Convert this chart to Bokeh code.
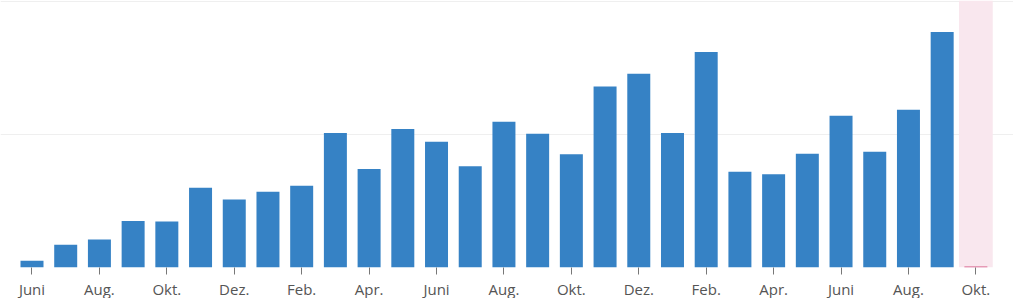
from bokeh.plotting import figure
from bokeh.models import Range1d, FixedTicker, BoxAnnotation, ColumnDataSource
from bokeh.embed import file_html
from bokeh.resources import INLINE

# Months (index 1..29), June of year 1 through October of year 3
months = ["Juni", "Juli", "Aug.", "Sep.", "Okt.", "Nov.", "Dez.", "Jan.", "Feb.", "Mär.",
          "Apr.", "Mai", "Juni", "Juli", "Aug.", "Sep.", "Okt.", "Nov.", "Dez.", "Jan.",
          "Feb.", "Mär.", "Apr.", "Mai", "Juni", "Juli", "Aug.", "Sep.", "Okt."]
values = [5, 17, 21, 35, 34.5, 60, 51, 57, 61.5, 101,
          74, 104, 94.5, 76, 109.5, 100.5, 85, 136, 145.5, 101,
          162, 72, 70, 85.5, 114, 87, 118.5, 177, 0.8]
current_month = 29  # incomplete month, highlighted
tick_positions = list(range(1, 30, 2))
tick_labels = {i: months[i - 1] for i in tick_positions}
grid_values = [0, 100, 200]

idx = list(range(1, len(months) + 1))
colors = ["#3682c5" if i != current_month else "#d4517f" for i in idx]
src = ColumnDataSource(dict(x=idx, top=values, color=colors))

p = figure(frame_width=1013, frame_height=267, output_backend="svg",
           toolbar_location=None, y_axis_location=None,
           x_range=Range1d(0.0656, 30.116), y_range=Range1d(0, 200.6),
           min_border=0, min_border_left=0, min_border_right=0,
           min_border_top=0, min_border_bottom=0)
p.outline_line_color = None
p.background_fill_color = "white"
p.border_fill_color = "white"

band = BoxAnnotation(left=current_month - 0.5, right=current_month + 0.5, bottom=0,
                     fill_color="#f9e7ee", fill_alpha=1.0, line_color=None, level="underlay")
p.add_layout(band)

p.vbar(x="x", top="top", bottom=0, width=0.682, color="color", source=src, line_color=None)

p.xgrid.visible = False
p.ygrid.ticker = FixedTicker(ticks=grid_values)
p.ygrid.grid_line_color = "#efefef"
p.ygrid.grid_line_width = 1

ax = p.xaxis[0]
ax.ticker = FixedTicker(ticks=tick_positions)
ax.major_label_overrides = tick_labels
ax.axis_line_color = None
ax.major_tick_line_color = "#777777"
ax.major_tick_in = 0
ax.major_tick_out = 7
ax.minor_tick_line_color = None
ax.major_label_text_font = "Open Sans"
ax.major_label_text_font_size = "15px"
ax.major_label_text_color = "#555555"
ax.major_label_standoff = 4

open("out.html", "w").write(file_html(p, INLINE))
